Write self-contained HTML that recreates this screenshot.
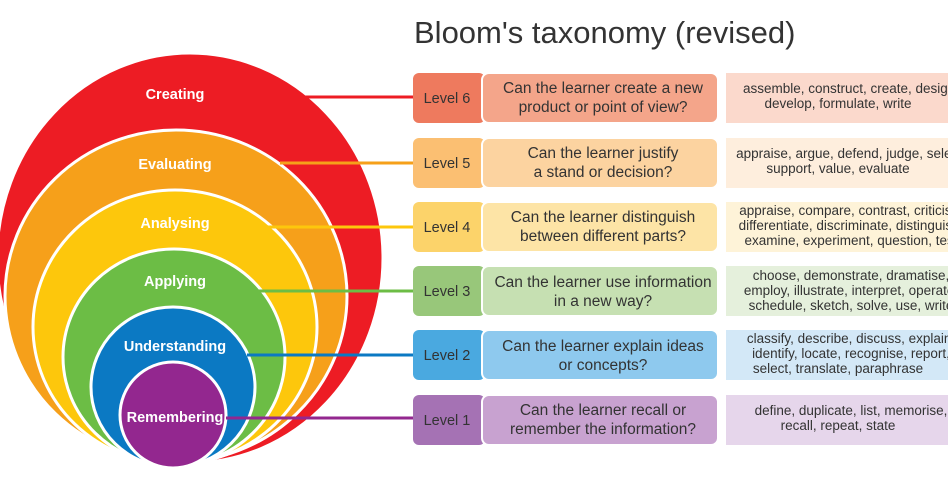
<!DOCTYPE html>
<html><head><meta charset="utf-8"><style>
html,body{margin:0;padding:0;background:#fff;width:948px;height:480px;overflow:hidden}
svg{display:block;font-family:"Liberation Sans",sans-serif}
</style></head><body>
<svg width="948" height="480" viewBox="0 0 948 480">
<text x="414" y="43" font-size="31" fill="#333">Bloom's taxonomy (revised)</text>
<g stroke="#fff" stroke-width="3">
<ellipse cx="190" cy="258" rx="193" ry="205" fill="#ed1c24"/>
<ellipse cx="176" cy="296" rx="171" ry="166" fill="#f6a01a"/>
<ellipse cx="175" cy="327" rx="142" ry="137" fill="#fdc70c"/>
<ellipse cx="174" cy="357" rx="111" ry="108" fill="#6cbd45"/>
<ellipse cx="173" cy="387" rx="82" ry="80" fill="#0b79c3"/>
<ellipse cx="173" cy="415" rx="53" ry="53" fill="#93278f"/>
</g>
<g fill="#fff" font-weight="bold" font-size="14.5" text-anchor="middle">
<text x="175" y="99">Creating</text>
<text x="175" y="169">Evaluating</text>
<text x="175" y="228">Analysing</text>
<text x="175" y="286">Applying</text>
<text x="175" y="351">Understanding</text>
<text x="175" y="422">Remembering</text>
</g>
<g stroke-width="3">
<line x1="305" y1="97" x2="413" y2="97" stroke="#ed1c24"/>
<line x1="280" y1="163" x2="413" y2="163" stroke="#f6a01a"/>
<line x1="268" y1="227" x2="413" y2="227" stroke="#fdc70c"/>
<line x1="258" y1="291" x2="413" y2="291" stroke="#6cbd45"/>
<line x1="247" y1="355" x2="413" y2="355" stroke="#0b79c3"/>
<line x1="226" y1="418" x2="413" y2="418" stroke="#93278f"/>
</g>
<g font-size="15.5" fill="#333" text-anchor="middle">
<rect x="413" y="73" width="72" height="50" rx="6" fill="#ee7a5e"/>
<rect x="482" y="73" width="236" height="50" rx="7" fill="#f4a58a" stroke="#fff" stroke-width="2"/>
<rect x="726" y="73" width="230" height="50" fill="#fbd9cc"/>
<text x="447" y="103" font-size="14.5">Level 6</text>
<text x="603" y="93">Can the learner create a new</text><text x="603" y="112">product or point of view?</text>
<g font-size="13.5"><text x="851" y="93">assemble, construct, create, design,</text><text x="838" y="108">develop, formulate, write</text></g>
<rect x="413" y="138" width="72" height="50" rx="6" fill="#fbbf72"/>
<rect x="482" y="138" width="236" height="50" rx="7" fill="#fcd3a0" stroke="#fff" stroke-width="2"/>
<rect x="726" y="138" width="230" height="50" fill="#feeedd"/>
<text x="447" y="168" font-size="14.5">Level 5</text>
<text x="603" y="158">Can the learner justify</text><text x="603" y="177">a stand or decision?</text>
<g font-size="13.5"><text x="851" y="158">appraise, argue, defend, judge, select,</text><text x="838" y="173">support, value, evaluate</text></g>
<rect x="413" y="202" width="72" height="50" rx="6" fill="#fcd36a"/>
<rect x="482" y="202" width="236" height="50" rx="7" fill="#fde4a6" stroke="#fff" stroke-width="2"/>
<rect x="726" y="202" width="230" height="50" fill="#fef3d8"/>
<text x="447" y="232" font-size="14.5">Level 4</text>
<text x="603" y="222">Can the learner distinguish</text><text x="603" y="241">between different parts?</text>
<g font-size="13.5"><text x="851" y="215">appraise, compare, contrast, criticise,</text><text x="851" y="230">differentiate, discriminate, distinguish,</text><text x="851" y="245">examine, experiment, question, test</text></g>
<rect x="413" y="266" width="72" height="50" rx="6" fill="#98c77a"/>
<rect x="482" y="266" width="236" height="50" rx="7" fill="#c6e0b2" stroke="#fff" stroke-width="2"/>
<rect x="726" y="266" width="230" height="50" fill="#e5f0dc"/>
<text x="447" y="296" font-size="14.5">Level 3</text>
<text x="603" y="287">Can the learner use information</text><text x="603" y="306">in a new way?</text>
<g font-size="13.5"><text x="851" y="280">choose, demonstrate, dramatise,</text><text x="851" y="295">employ, illustrate, interpret, operate,</text><text x="851" y="310">schedule, sketch, solve, use, write</text></g>
<rect x="413" y="330" width="72" height="50" rx="6" fill="#4aa9e0"/>
<rect x="482" y="330" width="236" height="50" rx="7" fill="#8ec9ee" stroke="#fff" stroke-width="2"/>
<rect x="726" y="330" width="230" height="50" fill="#d3e8f7"/>
<text x="447" y="360" font-size="14.5">Level 2</text>
<text x="603" y="351">Can the learner explain ideas</text><text x="603" y="370">or concepts?</text>
<g font-size="13.5"><text x="851" y="343">classify, describe, discuss, explain,</text><text x="851" y="358">identify, locate, recognise, report,</text><text x="838" y="373">select, translate, paraphrase</text></g>
<rect x="413" y="395" width="72" height="50" rx="6" fill="#a572b4"/>
<rect x="482" y="395" width="236" height="50" rx="7" fill="#c8a2d0" stroke="#fff" stroke-width="2"/>
<rect x="726" y="395" width="230" height="50" fill="#e6d6eb"/>
<text x="447" y="425" font-size="14.5">Level 1</text>
<text x="603" y="415">Can the learner recall or</text><text x="603" y="434">remember the information?</text>
<g font-size="13.5"><text x="851" y="415">define, duplicate, list, memorise,</text><text x="838" y="430">recall, repeat, state</text></g>
</g>
</svg>
</body></html>
